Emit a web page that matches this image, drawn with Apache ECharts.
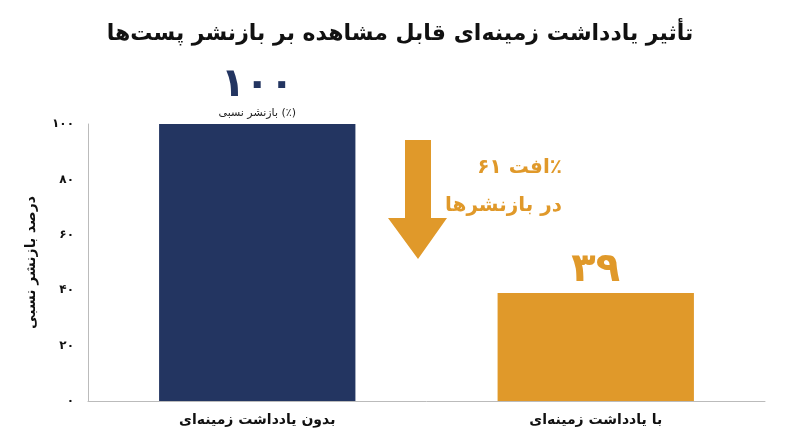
<!DOCTYPE html>
<html><head><meta charset="utf-8">
<script src="https://cdn.jsdelivr.net/npm/echarts@6/dist/echarts.min.js"></script>
<style>html,body{margin:0;background:#fff}#c{width:800px;height:447px}</style>
</head><body><div id="c"></div>
<script>
const categories = ['بدون یادداشت زمینه‌ای', 'با یادداشت زمینه‌ای'];
const values = [100, 39];
const colors = ['#233561', '#E0992A'];
const yTicks = [0, 20, 40, 60, 80, 100];
const fa = s => String(s).replace(/\d/g, d => '۰۱۲۳۴۵۶۷۸۹'[d]);
const F = 'DejaVu Sans';
const chart = echarts.init(document.getElementById('c'));
chart.setOption({
  animation: false,
  textStyle: { fontFamily: F },
  title: { text: 'تأثیر یادداشت زمینه‌ای قابل مشاهده بر بازنشر پست‌ها', left: 'center', top: 18,
    textStyle: { fontFamily: F, fontSize: 22, fontWeight: 'bold', color: '#111' } },
  grid: { left: 88, right: 35, top: 124, bottom: 46 },
  xAxis: { type: 'category', data: categories,
    axisLine: { lineStyle: { color: '#bbb' } }, axisTick: { show: false },
    axisLabel: { fontFamily: F, fontSize: 14, fontWeight: 'bold', color: '#111', margin: 12 } },
  yAxis: { type: 'value', min: 0, max: 100, interval: 20,
    name: 'درصد بازنشر نسبی', nameLocation: 'middle', nameGap: 50, nameRotate: 90,
    nameTextStyle: { fontFamily: F, fontSize: 14, fontWeight: 'bold', color: '#111' },
    axisLine: { show: true, lineStyle: { color: '#bbb' } }, axisTick: { show: false },
    splitLine: { show: false },
    axisLabel: { fontFamily: F, fontSize: 12, fontWeight: 'bold', color: '#111', margin: 14,
      formatter: v => yTicks.includes(v) ? fa(v) : '' } },
  series: [{
    type: 'bar', barWidth: '58%',
    data: values.map((v, i) => ({
      value: v, itemStyle: { color: colors[i] },
      label: i === 0 ? {
        show: true, position: 'top', distance: 4,
        formatter: '{a|' + fa(v) + '}\n{b|بازنشر نسبی (٪)}',
        rich: { a: { fontFamily: F, fontSize: 40, fontWeight: 'bold', color: colors[0], lineHeight: 40 },
                b: { fontFamily: F, fontSize: 11, color: '#222', lineHeight: 14 } }
      } : {
        show: true, position: 'top', distance: 2, formatter: fa(v),
        fontFamily: F, fontSize: 40, fontWeight: 'bold', color: colors[1]
      }
    }))
  }],
  graphic: [
    { type: 'polygon', shape: { points: [[405,140],[431,140],[431,218],[447,218],[418,259],[388,218],[405,218]] },
      style: { fill: '#E0992A' } },
    { type: 'text', right: 238, top: 158, style: { text: 'افت ۶۱٪', fontFamily: F, fontSize: 20, fontWeight: 'bold', fill: '#E0992A', textAlign: 'right' } },
    { type: 'text', right: 238, top: 196, style: { text: 'در بازنشرها', fontFamily: F, fontSize: 20, fontWeight: 'bold', fill: '#E0992A', textAlign: 'right' } }
  ]
});
</script></body></html>
